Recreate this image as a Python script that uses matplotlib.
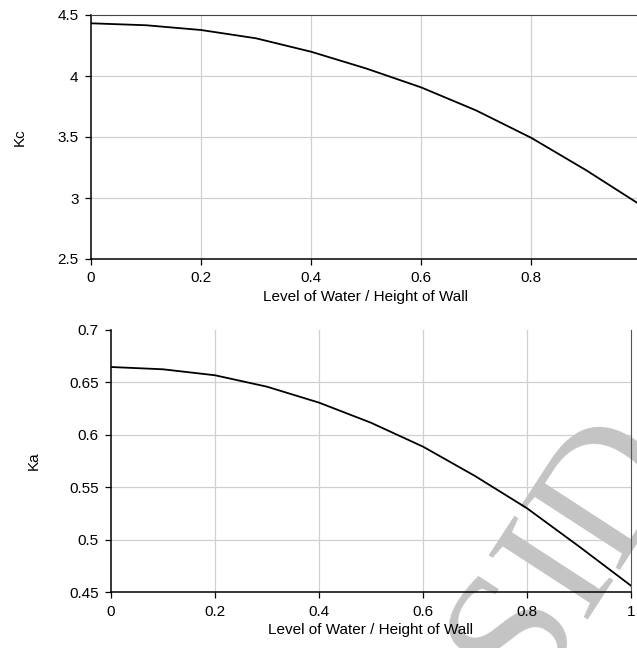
import numpy as np
import matplotlib
matplotlib.use('Agg')
import matplotlib.pyplot as plt

plt.rcParams['font.family'] = ['Liberation Sans', 'DejaVu Sans']

# data
ratio_kc = [0.0, 0.1, 0.2, 0.3, 0.4, 0.5, 0.6, 0.7, 0.8, 0.9, 0.993]
kc = [4.432, 4.416, 4.377, 4.309, 4.199, 4.062, 3.907, 3.718, 3.494, 3.228, 2.96]

ratio_ka = [0.0, 0.1, 0.2, 0.3, 0.4, 0.5, 0.6, 0.7, 0.8, 0.9, 1.0]
ka = [0.6647, 0.6625, 0.6568, 0.6459, 0.6307, 0.6115, 0.5887, 0.5607, 0.5299, 0.4935, 0.456]

kc_xticks = [0, 0.2, 0.4, 0.6, 0.8]
kc_yticks = [2.5, 3, 3.5, 4, 4.5]
ka_xticks = [0, 0.2, 0.4, 0.6, 0.8, 1]
ka_yticks = [0.45, 0.5, 0.55, 0.6, 0.65, 0.7]

xlabel = 'Level of Water / Height of Wall'

fig = plt.figure(figsize=(6.37, 6.48), dpi=100)
W, H = 637.0, 648.0
ax1 = fig.add_axes([91/W, 1-259/H, (640-91)/W, (259-15)/H])
ax2 = fig.add_axes([111/W, 1-592/H, (631-111)/W, (592-330)/H])

grid_c = '#d0d0d0'
fs = 11

# top chart
ax1.plot(ratio_kc, kc, color='black', lw=1.3, zorder=3)
ax1.set_xlim(0, 0.998)
ax1.set_ylim(2.5, 4.5)
ax1.set_xticks(kc_xticks)
ax1.set_xticklabels(['%g' % v for v in kc_xticks])
ax1.set_yticks(kc_yticks)
ax1.set_yticklabels(['%g' % v for v in kc_yticks])
for v in kc_xticks[1:]:
    ax1.axvline(v, color=grid_c, lw=0.9, zorder=1)
for v in kc_yticks[1:-1]:
    ax1.axhline(v, color=grid_c, lw=0.9, zorder=1)
ax1.spines['right'].set_visible(False)
ax1.spines['top'].set_color('#444444')
ax1.set_xlabel(xlabel, fontsize=fs, labelpad=3)
ax1.set_ylabel('Kc', fontsize=fs, labelpad=22)

# bottom chart
ax2.plot(ratio_ka, ka, color='black', lw=1.3, zorder=3)
ax2.set_xlim(0, 1)
ax2.set_ylim(0.45, 0.7)
ax2.set_xticks(ka_xticks)
ax2.set_xticklabels(['%g' % v for v in ka_xticks])
ax2.set_yticks(ka_yticks)
ax2.set_yticklabels(['%g' % v for v in ka_yticks])
for v in ka_xticks[1:-1]:
    ax2.axvline(v, color=grid_c, lw=0.9, zorder=1)
for v in ka_yticks[1:-1]:
    ax2.axhline(v, color=grid_c, lw=0.9, zorder=1)
ax2.spines['top'].set_visible(False)
ax2.spines['right'].set_color('#555555')
ax2.set_xlabel(xlabel, fontsize=fs, labelpad=3)
ax2.set_ylabel('Ka', fontsize=fs, labelpad=20)

for ax in (ax1, ax2):
    ax.tick_params(direction='out', length=4, width=0.9, labelsize=fs, pad=5)
    for s in ('left', 'bottom'):
        ax.spines[s].set_linewidth(1.1)

# watermark (above grid, below curve and labels)
ax2.text(568/W, 1-552/H, 'SID', transform=fig.transFigure, fontsize=130,
         family='Liberation Serif', color='#c4c4c4', rotation=57,
         ha='center', va='center', zorder=1.5, clip_on=False)

fig.savefig('out.png', dpi=100)
